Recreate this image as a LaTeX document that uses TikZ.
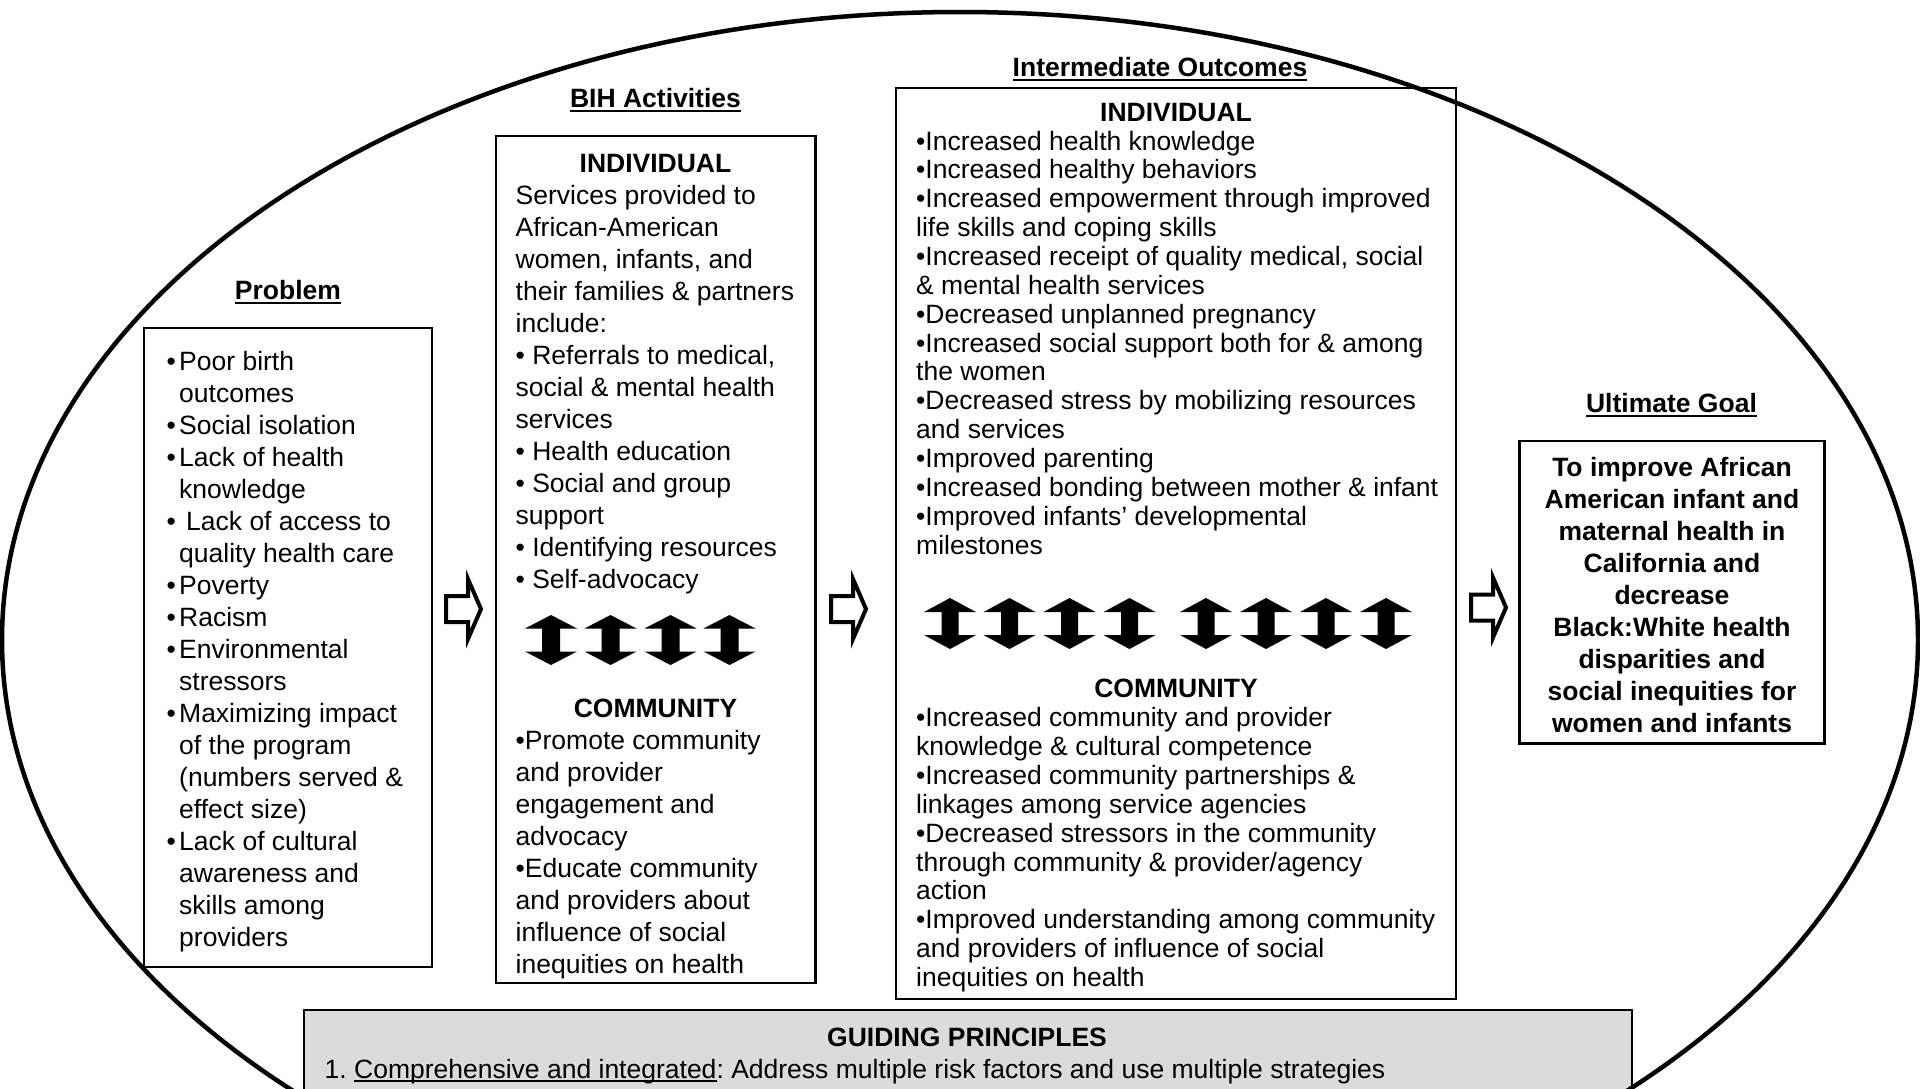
\documentclass[tikz,border=0pt]{standalone}
\usepackage{fontspec}
\setmainfont{Liberation Sans}
\frenchspacing
\newsavebox\ulbox
\newcommand\tul[1]{\leavevmode\sbox\ulbox{#1}\rlap{\rule[-4.8pt]{\wd\ulbox}{2.4pt}}\usebox\ulbox}
\newcommand\tulthin[1]{\leavevmode\sbox\ulbox{#1}\rlap{\rule[-3.8pt]{\wd\ulbox}{1.6pt}}\usebox\ulbox}
\newcommand\pb{\makebox[12.5pt][l]{•}}
\newcommand\pind{\hspace*{12.5pt}}
% up-down double arrow: cx, cy, half width, half height, head height, shaft half width
\newcommand\udarrow[6]{%
  \fill[black] ({#1-#3},{#2-#4+#5}) -- (#1,{#2-#4}) -- ({#1+#3},{#2-#4+#5}) -- ({#1+#6},{#2-#4+#5})
   -- ({#1+#6},{#2+#4-#5}) -- ({#1+#3},{#2+#4-#5}) -- (#1,{#2+#4}) -- ({#1-#3},{#2+#4-#5})
   -- ({#1-#6},{#2+#4-#5}) -- ({#1-#6},{#2-#4+#5}) -- cycle;}
% outlined right block arrow: left x, centre y
\newcommand\rblock[2]{%
  \draw[blockarrow] (#1,{#2-13}) -- ({#1+22},{#2-13}) -- ({#1+22},{#2-30}) -- ({#1+35},#2)
   -- ({#1+22},{#2+30}) -- ({#1+22},{#2+13}) -- (#1,{#2+13}) -- cycle;}
\tikzset{
  frame/.style={draw=black, line width=2.5pt},
  body/.style={font=\fontsize{26.5}{32}\selectfont, inner sep=0pt, align=left, anchor=base west},
  iobody/.style={font=\fontsize{26.5}{28.85}\selectfont, inner sep=0pt, align=left, anchor=base west},
  heading/.style={font=\bfseries\fontsize{26.5}{32}\selectfont, inner sep=0pt, anchor=base},
  goal/.style={font=\bfseries\fontsize{26.5}{32}\selectfont, inner sep=0pt, align=center, anchor=base},
  blockarrow/.style={draw=black, fill=white, line width=4pt, line join=miter},
  oval/.style={draw=black, line width=4.5pt},
  guide/.style={draw=black, line width=2.5pt, fill=black!14}
}
\begin{document}
\begin{tikzpicture}[x=1pt,y=-1pt]
\useasboundingbox (0,0) rectangle (1920,1088);
\begin{scope}
\clip (0,0) rectangle (1920,1088);
\fill[white] (0,0) rectangle (1920,1088);

% Problem (multi-line nodes are anchored at the baseline of their last line)
\node[heading] (ptitle) at (288,299.5) {\tul{Problem}};
\draw[frame] (144,328) rectangle (432,967);
\node[body] (ptext) at (166.5,946) {\pb Poor birth\\
\pind outcomes\\
\pb Social isolation\\
\pb Lack of health\\
\pind knowledge\\
\pb\hspace{7pt}Lack of access to\\
\pind quality health care\\
\pb Poverty\\
\pb Racism\\
\pb Environmental\\
\pind stressors\\
\pb Maximizing impact\\
\pind of the program\\
\pind (numbers served \&\\
\pind effect size)\\
\pb Lack of cultural\\
\pind awareness and\\
\pind skills among\\
\pind providers};

% BIH Activities
\node[heading] (btitle) at (655.5,107.5) {\tul{BIH Activities}};
\draw[frame] (496,136) rectangle (815.5,983);
\node[heading] (bind) at (655.5,172.5) {INDIVIDUAL};
\node[body] (btext) at (515.5,588) {Services provided to\\
African-American\\
women, infants, and\\
their families \& partners\\
include:\\
• Referrals to medical,\\
social \& mental health\\
services\\
• Health education\\
• Social and group\\
support\\
• Identifying resources\\
• Self-advocacy};
\udarrow{551}{640}{26}{25}{13.5}{9}
\udarrow{610.5}{640}{26}{25}{13.5}{9}
\udarrow{670.5}{640}{26}{25}{13.5}{9}
\udarrow{729.5}{640}{26}{25}{13.5}{9}
\node[heading] (bcom) at (655.5,717.5) {COMMUNITY};
\node[body] (bctext) at (515.5,973) {•Promote community\\
and provider\\
engagement and\\
advocacy\\
•Educate community\\
and providers about\\
influence of social\\
inequities on health};

% Intermediate Outcomes
\node[heading] (ititle) at (1160,76.5) {\tul{Intermediate Outcomes}};
\draw[frame] (896,88) rectangle (1456,999);
\node[heading] (iind) at (1176,121) {INDIVIDUAL};
\node[iobody] (itext) at (916,554) {•Increased health knowledge\\
•Increased healthy behaviors\\
•Increased empowerment through improved\\
life skills and coping skills\\
•Increased receipt of quality medical, social\\
\& mental health services\\
•Decreased unplanned pregnancy\\
•Increased social support both for \& among\\
the women\\
•Decreased stress by mobilizing resources\\
and services\\
•Improved parenting\\
•Increased bonding between mother \& infant\\
•Improved infants’ developmental\\
milestones};
\foreach \cx in {950,1009.5,1069.5,1129.5,1206,1266,1326,1386}
  {\udarrow{\cx}{623.5}{26}{25.5}{14}{8.5}}
\node[heading] (icom) at (1176,697.5) {COMMUNITY};
\node[iobody] (ictext) at (916,986.5) {•Increased community and provider\\
knowledge \& cultural competence\\
•Increased community partnerships \&\\
linkages among service agencies\\
•Decreased stressors in the community\\
through community \& provider/agency\\
action\\
•Improved understanding among community\\
and providers of influence of social\\
inequities on health};

% Ultimate Goal
\node[heading] (gtitle) at (1671.5,412.5) {\tul{Ultimate Goal}};
\draw[frame] (1519.6,440.8) rectangle (1824.5,743.3);
\node[goal] (gtext) at (1672,732) {To improve African\\
American infant and\\
maternal health in\\
California and\\
decrease\\
Black:White health\\
disparities and\\
social inequities for\\
women and infants};

% block arrows between columns
\rblock{446}{609}
\rblock{831}{609}
\rblock{1471}{607.5}

% Guiding principles
\draw[guide] (304,1010) rectangle (1632,1130);
\node[heading] (gp) at (967,1046.5) {GUIDING PRINCIPLES};
\node[body] (gp1) at (324.5,1078) {1. \tulthin{Comprehensive and integrated}: Address multiple risk factors and use multiple strategies};

% outer oval
\draw[oval] (960,640) ellipse [x radius=958, y radius=628];
\end{scope}
\end{tikzpicture}
\end{document}
